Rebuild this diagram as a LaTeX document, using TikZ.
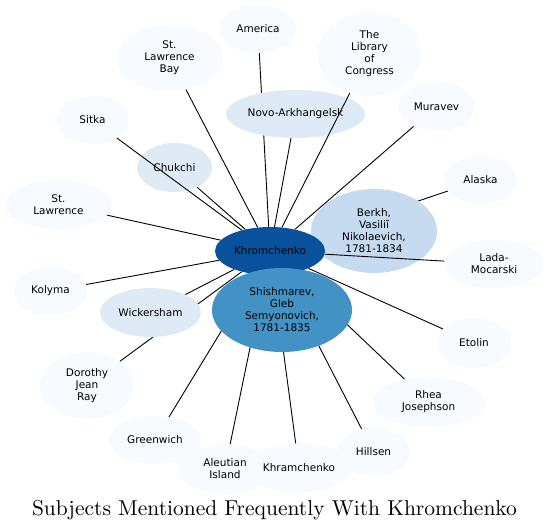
\documentclass[tikz,border=0pt]{standalone}
\usepackage{fontspec}
\usepackage{graphicx}
\newfontfamily\nodefont{DejaVu Sans}
\usetikzlibrary{shapes.geometric}
\pgfdeclarelayer{back}
\pgfdeclarelayer{front}
\pgfsetlayers{back,main,front}
\definecolor{bA}{HTML}{F7FBFF}
\definecolor{bB}{HTML}{DEEBF7}
\definecolor{bC}{HTML}{C6DBEF}
\definecolor{bD}{HTML}{4292C6}
\definecolor{bE}{HTML}{08519C}
\tikzset{
  ell/.style n args={3}{ellipse, inner sep=0pt, draw=none, fill=#1,
    minimum width=#2*2pt, minimum height=#3*2pt, align=center,
    font=\nodefont\fontsize{10.5}{12}\selectfont},
  link/.style={line width=0.9pt, black}
}
\begin{document}
\begin{tikzpicture}[x=1pt,y=-1pt]
\useasboundingbox (0,0) rectangle (549,530);
% nodes
\node[ell={bA}{38}{24}] (america) at (258,29) {America};
\node[ell={bA}{53}{33}] (stlb) at (169.5,58) {St.\\Lawrence\\Bay};
\node[ell={bA}{52}{42}] (loc) at (369.5,54) {The\\Library\\of\\Congress};
\node[ell={bB}{69.5}{24}] (novo) at (295.5,114) {Novo-Arkhangelsk};
\node[ell={bA}{38.5}{24.5}] (muravev) at (436.5,106.5) {Muravev};
\node[ell={bA}{36.5}{24}] (sitka) at (92.5,120) {Sitka};
\node[ell={bB}{37.5}{24.5}] (chukchi) at (174.5,167.5) {Chukchi};
\node[ell={bA}{53.5}{24.5}] (stl) at (58.5,204.5) {St.\\Lawrence};
\node[ell={bA}{36.5}{24}] (alaska) at (480.5,180) {Alaska};
\node[ell={bC}{63}{42}] (berkh) at (374,231) {Berkh,\\Vasili\u{\i}\\Nikolaevich,\\1781-1834};
\node[ell={bE}{55}{24}] (khrom) at (270,251) {Khromchenko};
\node[ell={bA}{50}{24.5}] (lada) at (494,264) {Lada-\\Mocarski};
\node[ell={bA}{36.5}{24.5}] (kolyma) at (50.5,291) {Kolyma};
\node[ell={bB}{50.5}{24.5}] (wick) at (150.5,312.5) {Wickersham};
\node[ell={bD}{70}{42}] (shish) at (282,310) {Shishmarev,\\Gleb\\Semyonovich,\\1781-1835};
\node[ell={bA}{47}{33.5}] (dorothy) at (87,385.5) {Dorothy\\Jean\\Ray};
\node[ell={bA}{37}{25}] (etolin) at (474,343) {Etolin};
\node[ell={bA}{56.5}{25}] (rhea) at (428.5,402) {Rhea\\Josephson};
\node[ell={bA}{46}{24}] (greenwich) at (155,440) {Greenwich};
\node[ell={bA}{47}{25}] (aleutian) at (225,469) {Aleutian\\Island};
\node[ell={bA}{53}{24.5}] (khram) at (299,468) {Khramchenko};
\node[ell={bA}{36.5}{24}] (hillsen) at (373.5,452) {Hillsen};
% title
\node[anchor=base, inner sep=0pt] (title) at (274.5,515) {\scalebox{2.15}{\fontsize{10}{12}\selectfont Subjects Mentioned Frequently With Khromchenko}};
% edges beneath nodes
\begin{pgfonlayer}{back}
\foreach \t in {america,stlb,novo,muravev,chukchi,stl,alaska,kolyma,wick,dorothy,etolin,rhea,greenwich,aleutian,khram,hillsen}
  \draw[link] (khrom) -- (\t);
\end{pgfonlayer}
% edges above nodes
\begin{pgfonlayer}{front}
\foreach \t in {sitka,loc,lada}
  \draw[link] (khrom) -- (\t);
\end{pgfonlayer}
\end{tikzpicture}
\end{document}
